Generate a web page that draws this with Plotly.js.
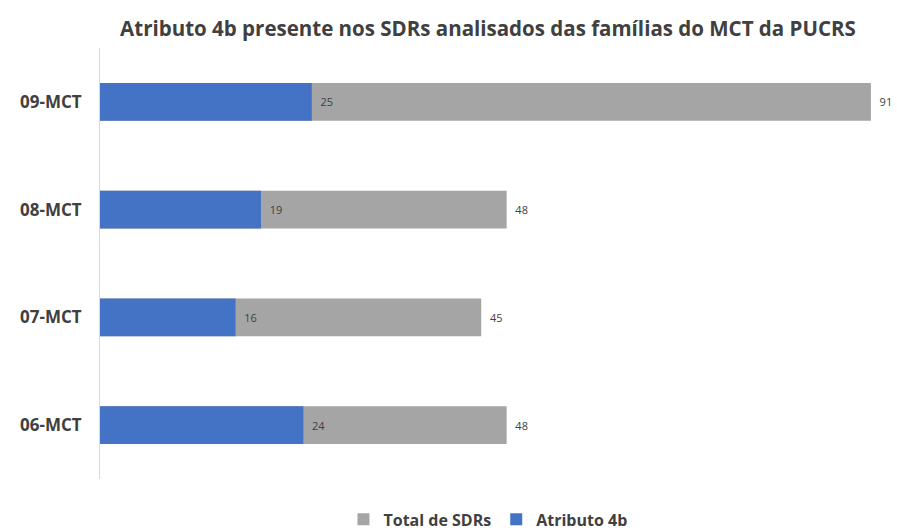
<!DOCTYPE html>
<html><head><meta charset="utf-8">
<script src="https://cdn.plot.ly/plotly-3.0.1.min.js"></script>
<style>html,body{margin:0;padding:0;background:#fff}#c{width:897px;height:530px}</style>
</head><body><div id="c"></div>
<script>
const categories = ['06-MCT', '07-MCT', '08-MCT', '09-MCT'];
const totalSDRs = [48, 45, 48, 91];
const atributo4b = [24, 16, 19, 25];
const seriesNames = ['Total de SDRs', 'Atributo 4b'];

const lbl = v => '  ' + v;
const traces = [
  {type: 'bar', orientation: 'h', y: categories, x: totalSDRs, name: seriesNames[0],
   marker: {color: '#A5A5A5'}, width: 0.35, text: totalSDRs.map(lbl), textposition: 'outside',
   textfont: {family: 'Open Sans', size: 11, color: '#404040'}, cliponaxis: false, hoverinfo: 'x+name'},
  {type: 'bar', orientation: 'h', y: categories, x: atributo4b, name: seriesNames[1],
   marker: {color: '#4472C4'}, width: 0.35, text: atributo4b.map(lbl), textposition: 'outside',
   textfont: {family: 'Open Sans', size: 11, color: '#404040'}, cliponaxis: false, hoverinfo: 'x+name'}
];

const layout = {
  width: 897, height: 530,
  margin: {l: 100, r: 10, t: 48, b: 51},
  paper_bgcolor: '#fff', plot_bgcolor: '#fff',
  barmode: 'overlay',
  title: {text: 'Atributo 4b presente nos SDRs analisados das famílias do MCT da PUCRS',
          font: {family: 'Open Sans', size: 20.5, color: '#404040', weight: 'bold'},
          x: 0.544, xanchor: 'center', xref: 'container', y: 0.945, yanchor: 'middle'},
  xaxis: {range: [0, 92.9], visible: false, showgrid: false, zeroline: false, fixedrange: true},
  yaxis: {showline: true, linecolor: '#d9d9d9', linewidth: 1, ticks: '', showgrid: false,
          tickfont: {family: 'Open Sans', size: 17, color: '#404040', weight: 'bold'},
          ticklabelstandoff: 14, fixedrange: true},
  showlegend: true,
  legend: {orientation: 'h', x: 0.544, xref: 'container', xanchor: 'center', y: 0.02, yref: 'container', yanchor: 'middle',
           font: {family: 'Open Sans', size: 16, color: '#404040', weight: 'bold'}, itemwidth: 30, traceorder: 'normal'},
  bargap: 0.65
};
Plotly.newPlot('c', traces, layout, {displayModeBar: false, staticPlot: true});
</script></body></html>
